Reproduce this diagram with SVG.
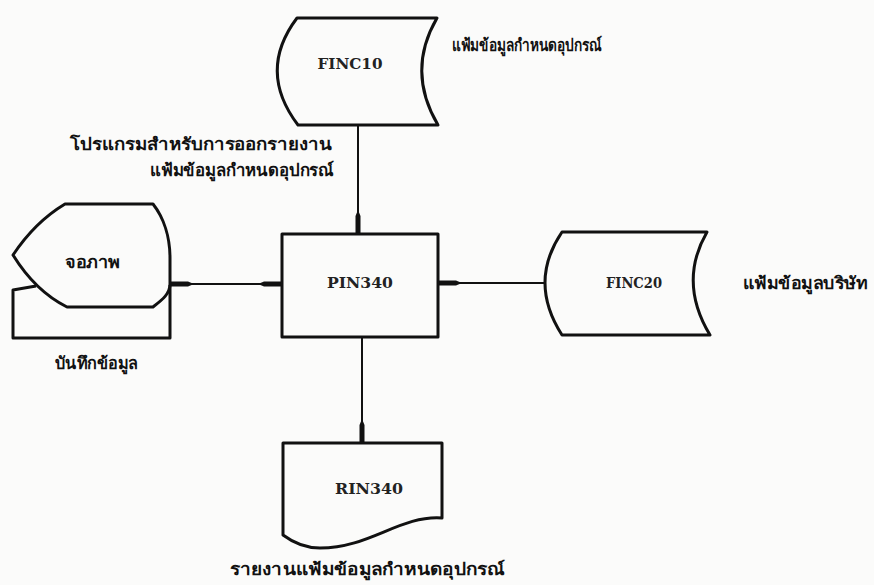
<svg xmlns="http://www.w3.org/2000/svg" width="874" height="585" viewBox="0 0 874 585">
<style>
.shape{fill:none;stroke:#111;stroke-width:3;stroke-linejoin:round}
.conn{fill:none;stroke:#111;stroke-width:2}
.code{font-family:"DejaVu Serif","Liberation Serif",serif;font-weight:bold;font-size:15px;fill:#222;text-anchor:middle}
.th{font-family:"Noto Sans","DejaVu Sans",sans-serif;font-weight:bold;font-size:17px;fill:#111}
</style>
<defs>
<marker id="arr" markerUnits="userSpaceOnUse" markerWidth="26" markerHeight="8" refX="24" refY="3.5" orient="auto-start-reverse">
<path d="M0,3.5 L6,1 L24,1 L24,6 L6,6 Z" fill="#111"/>
</marker>
</defs>
<rect width="874" height="585" fill="#fbfbfa"/>
<g id="connectors">
<line class="conn" x1="358" y1="125" x2="358" y2="234" marker-end="url(#arr)"/>
<line class="conn" x1="170" y1="284" x2="282" y2="284" marker-start="url(#arr)" marker-end="url(#arr)"/>
<line class="conn" x1="545" y1="283" x2="438" y2="283" marker-end="url(#arr)"/>
<line class="conn" x1="362" y1="337" x2="362" y2="443" marker-end="url(#arr)"/>
</g>
<g id="FINC10">
<path class="shape" d="M297,18 H437 Q406,71 438,125 H298 Q257,71 297,18 Z"/>
<text class="code" x="350" y="69" textLength="65" lengthAdjust="spacingAndGlyphs">FINC10</text>
<text class="th" x="452" y="51" font-size="16" textLength="150" lengthAdjust="spacingAndGlyphs">แฟ้มข้อมูลกำหนดอุปกรณ์</text>
</g>
<g id="label-program">
<text class="th" x="70" y="150" textLength="262" lengthAdjust="spacingAndGlyphs">โปรแกรมสำหรับการออกรายงาน</text>
<text class="th" x="150" y="176" textLength="184" lengthAdjust="spacingAndGlyphs">แฟ้มข้อมูลกำหนดอุปกรณ์</text>
</g>
<g id="display">
<path class="shape" d="M36,286 L13,290 V338 H170 V285"/>
<path class="shape" d="M65,204 H153 C164,218 170,238 170,258 V284 C170,294 162,300 153,307 H67 C45,296 26,276 13,255 C27,234 45,216 65,204 Z" fill="#fbfbfa"/>
<text class="th" x="65" y="268" textLength="55" lengthAdjust="spacingAndGlyphs">จอภาพ</text>
<text class="th" x="55" y="369" textLength="83" lengthAdjust="spacingAndGlyphs">บันทึกข้อมูล</text>
</g>
<g id="PIN340">
<rect class="shape" x="282" y="234" width="156" height="103"/>
<text class="code" x="360" y="288" textLength="66" lengthAdjust="spacingAndGlyphs">PIN340</text>
</g>
<g id="FINC20">
<path class="shape" d="M562,232 H707 Q678,282 710,335 H562 Q528,282 562,232 Z"/>
<text class="code" x="634" y="288" textLength="56" lengthAdjust="spacingAndGlyphs">FINC20</text>
<text class="th" x="743" y="289" textLength="124" lengthAdjust="spacingAndGlyphs">แฟ้มข้อมูลบริษัท</text>
</g>
<g id="RIN340">
<path class="shape" d="M283,443 H442 V518 C400,515 370,548 320,548 C302,548 291,541 283,535 Z"/>
<text class="code" x="369" y="494" textLength="68" lengthAdjust="spacingAndGlyphs">RIN340</text>
<text class="th" x="230" y="575" textLength="275" lengthAdjust="spacingAndGlyphs">รายงานแฟ้มข้อมูลกำหนดอุปกรณ์</text>
</g>
</svg>
